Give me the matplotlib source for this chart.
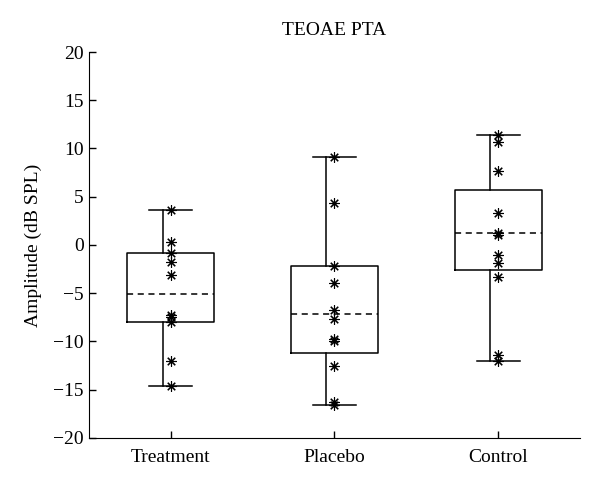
import matplotlib
matplotlib.use("Agg")
import matplotlib.pyplot as plt

plt.rcParams['font.family'] = ['Liberation Serif', 'DejaVu Serif']

## data
groups = ['Treatment', 'Placebo', 'Control']
whislo = [-14.6, -16.6, -12.0]
q1 = [-8.0, -11.25, -2.6]
med = [-5.1, -7.15, 1.25]
q3 = [-0.8, -2.15, 5.7]
whishi = [3.6, 9.1, 11.4]

treatment_pts = [3.6, 0.35, -0.85, -1.8, -3.1, -7.25, -7.45, -7.95, -12.0, -14.6]
placebo_pts = [9.1, 4.3, -2.15, -3.95, -6.75, -7.7, -9.8, -10.0, -12.6, -16.3, -16.55]
control_pts = [11.4, 10.7, 7.7, 3.35, 1.2, 1.05, -1.05, -1.9, -3.3, -11.4, -12.0]
points = [treatment_pts, placebo_pts, control_pts]

stats = []
for i in range(len(groups)):
    stats.append({'label': groups[i], 'whislo': whislo[i], 'q1': q1[i], 'med': med[i],
                  'q3': q3[i], 'whishi': whishi[i], 'fliers': []})

fig = plt.figure(figsize=(6, 4.86), dpi=100)
ax = fig.add_axes([0.148, 0.099, 0.819, 0.794])

pos = [1, 2, 3]
bp = ax.bxp(stats, positions=pos, widths=0.53, showfliers=False,
            boxprops=dict(color='black', linewidth=1.1),
            whiskerprops=dict(color='black', linewidth=1.1),
            capprops=dict(color='black', linewidth=1.1),
            medianprops=dict(color='black', linewidth=1.1, linestyle=(0, (4, 3))),
            capwidths=0.26)

# whiskers sit a bit left of the box centre in the original
for line in bp['whiskers']:
    line.set_xdata([x - 0.05 for x in line.get_xdata()])

for p, vals in zip(pos, points):
    ax.plot([p] * len(vals), vals, linestyle='none', marker=(8, 2, 0),
            markersize=7.5, color='black', markeredgewidth=0.8)

ax.set_xlim(0.5, 3.5)
ax.set_ylim(-20, 20)
ax.set_yticks(range(-20, 21, 5))
ax.set_xticks(pos)
ax.set_xticklabels(groups)
ax.spines['top'].set_visible(False)
ax.spines['right'].set_visible(False)
ax.tick_params(direction='in', length=5, labelsize=14, width=1)
ax.tick_params(axis='x', pad=8)
ax.set_ylabel('Amplitude (dB SPL)', fontsize=14, labelpad=8)
ax.set_title('TEOAE PTA', fontsize=14, pad=12)

fig.savefig('out.png', dpi=100)
